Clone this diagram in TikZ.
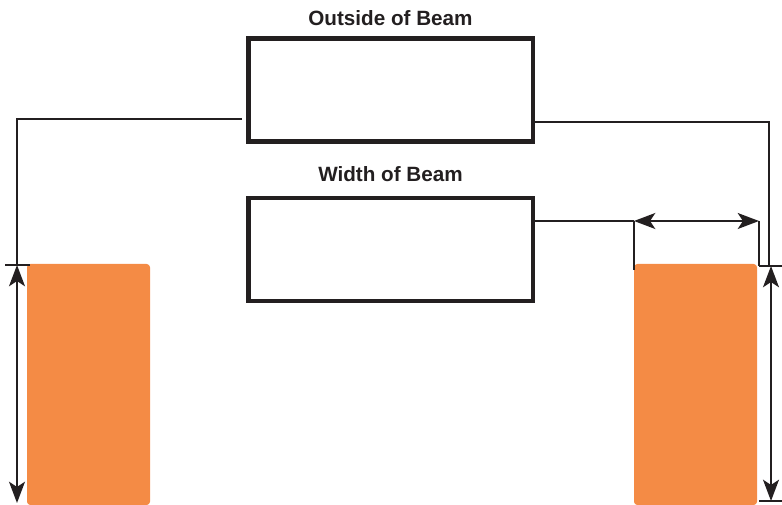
\documentclass[tikz,border=0pt]{standalone}
\usepackage{fontspec}
\setmainfont{Liberation Sans}
\usetikzlibrary{arrows.meta}
\definecolor{ink}{HTML}{231F20}
\definecolor{beam}{HTML}{F48B45}
\begin{document}
\begin{tikzpicture}[x=0.75pt,y=-0.75pt,
  beambox/.style={draw=ink,line width=3.4pt,minimum width=213.4pt,minimum height=77.5pt,inner sep=0pt,outer sep=0pt},
  post/.style={fill=beam,rounded corners=2.5pt},
  thin/.style={draw=ink,line width=1.5pt},
  dim/.style={thin,{Stealth[length=16pt,width=12pt,inset=4pt]}-{Stealth[length=16pt,width=12pt,inset=4pt]}},
  lbl/.style={font=\bfseries\fontsize{15.5}{18}\selectfont,text=ink,inner sep=0pt,anchor=base}]
\useasboundingbox (0,0) rectangle (782,505);
% posts
\fill[post] (27,264) rectangle (150,505);
\fill[post] (634,264) rectangle (757,505);
% boxes
\node[beambox] (outer) at (390.5,90) {};
\node[beambox] (width) at (390.5,249.5) {};
\node[lbl] (t1) at (390.5,26) {Outside of Beam};
\node[lbl] (t2) at (390.5,182) {Width of Beam};
% coordinates
\coordinate (lA) at (242,119);
\coordinate (lB) at (17,119);
\coordinate (lC) at (17,265);
\coordinate (lD) at (17,503);
\coordinate (lT1) at (5,265);
\coordinate (lT2) at (30,265);
\coordinate (rA) at (535,122);
\coordinate (rB) at (769,122);
\coordinate (rC) at (769,266);
\coordinate (rD) at (771,266);
\coordinate (rE) at (771,501);
\coordinate (rT1) at (759,266);
\coordinate (rT2) at (782,266);
\coordinate (rB1) at (759,501);
\coordinate (rB2) at (782,501);
\coordinate (wA) at (535,221);
\coordinate (wL) at (634,221);
\coordinate (wR) at (759,221);
\coordinate (wLb) at (634,270);
\coordinate (wRb) at (759,266);
% connectors
\draw[thin] (lA) -- (lB) -- (lC);
\draw[thin] (lT1) -- (lT2);
\draw[dim] (lC) -- (lD);
\draw[thin] (rA) -- (rB) -- (rC);
\draw[thin] (rT1) -- (rT2);
\draw[thin] (rB1) -- (rB2);
\draw[dim] (rD) -- (rE);
\draw[thin] (wA) -- (wL);
\draw[dim] (wL) -- (wR);
\draw[thin] (wL) -- (wLb);
\draw[thin] (wR) -- (wRb);
\end{tikzpicture}
\end{document}
